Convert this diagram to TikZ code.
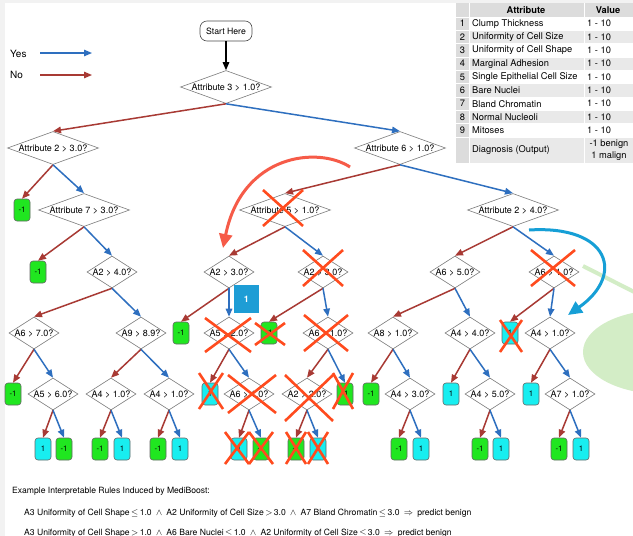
\documentclass[tikz,border=0pt]{standalone}
\usepackage{fontspec}
\setmainfont{TeX Gyre Heros}
\usetikzlibrary{shapes.geometric,arrows.meta}

\definecolor{yescol}{HTML}{2E6FBF}
\definecolor{nocol}{HTML}{A83A34}
\definecolor{xcol}{HTML}{FF4B1E}
\definecolor{swoopred}{HTML}{F65B48}
\definecolor{swoopblue}{HTML}{169FD6}
\definecolor{leafg}{HTML}{20E620}
\definecolor{leafc}{HTML}{18EEF0}
\definecolor{tagblue}{HTML}{1E9DD5}
\definecolor{softgreen}{HTML}{D3EDC6}
\definecolor{tabhead}{HTML}{DCDCDC}
\definecolor{tabrow}{HTML}{E9E9E9}
\definecolor{edgegrey}{HTML}{7A7A7A}
\definecolor{framegrey}{HTML}{F2F2F2}

% diamond label that does not widen its diamond
\newcommand\dlab[1]{\makebox[0pt]{\raisebox{-0.35em}[0pt][0pt]{#1}}}

\begin{document}
\begin{tikzpicture}[x=1pt,y=-1pt,
  dia/.style={diamond, draw=edgegrey, line width=0.6pt, fill=white, inner sep=0pt,
    minimum width=50, minimum height=32, font=\fontsize{9}{10}\selectfont},
  bigdia/.style={dia, minimum width=91, minimum height=33},
  leaf/.style={rectangle, rounded corners=3pt, draw=black!60, line width=0.6pt,
    minimum width=16, minimum height=22, inner sep=0pt, font=\fontsize{7.8}{8}\selectfont},
  benign/.style={leaf, fill=leafg},
  malign/.style={leaf, fill=leafc},
  branch/.style={line width=1.5pt, -{Triangle[length=8pt,width=6.5pt]}},
  yesedge/.style={branch, draw=yescol, fill=yescol},
  noedge/.style={branch, draw=nocol, fill=nocol},
  strike/.style={draw=xcol, line width=2.6pt},
  xout/.pic={\draw[strike] (-1,-1) -- (1,1) (-1,1) -- (1,-1);},
  tabfont/.style={font=\fontsize{9.3}{10.5}\selectfont, inner sep=0pt},
  rulefont/.style={font=\fontsize{8.6}{10}\selectfont, inner sep=0pt},
]
% page frame
\fill[framegrey] (0,0) rectangle (633,536);
\fill[white] (5,3) rectangle (633,536);
\useasboundingbox (0,0) rectangle (633,536);

% soft green shapes at the right edge
\begin{scope}
  \clip (0,0) rectangle (633,536);
  \draw[softgreen, line width=4pt] (583,266) -- (650,300);
  \fill[softgreen] (662,352) ellipse [x radius=79, y radius=42];
\end{scope}

% legend
\node[anchor=west, inner sep=0pt, font=\fontsize{10}{12}\selectfont] (yeslab) at (10,54) {Yes};
\node[anchor=west, inner sep=0pt, font=\fontsize{10}{12}\selectfont] (nolab) at (10,75) {No};
\coordinate (ya) at (40,53); \coordinate (yb) at (92,53);
\coordinate (na) at (40,75); \coordinate (nb) at (92,75);
\draw[yesedge, line width=1.3pt] (ya) -- (yb);
\draw[noedge, line width=1.3pt] (na) -- (nb);

% attribute table
\fill[tabhead] (456,3) rectangle (633,17);
\fill[tabhead] (456,17) rectangle (469,163);
\foreach \i in {2,4,6,8}
  \fill[tabrow] (469,{17+13.33*(\i-1)}) rectangle (633,{17+13.33*\i});
\fill[tabrow] (469,137) rectangle (633,163);
\draw[white, line width=0.8pt] (469,3) -- (469,163) (584,3) -- (584,163);
\foreach \i in {0,...,9}
  \draw[white, line width=0.8pt] (456,{17+13.33*\i}) -- (633,{17+13.33*\i});
\node[tabfont, font=\bfseries\fontsize{9.3}{10.5}\selectfont] (hattr) at (526,10.5) {Attribute};
\node[tabfont, font=\bfseries\fontsize{9.3}{10.5}\selectfont] (hval) at (608,10.5) {Value};
\foreach \i/\name in {1/Clump Thickness, 2/Uniformity of Cell Size, 3/Uniformity of Cell Shape,
    4/Marginal Adhesion, 5/Single Epithelial Cell Size, 6/Bare Nuclei, 7/Bland Chromatin,
    8/Normal Nucleoli, 9/Mitoses}{
  \node[tabfont] (num\i) at (462.5,{17+13.33*(\i-0.5)}) {\i};
  \node[tabfont, anchor=west] (attr\i) at (472,{17+13.33*(\i-0.5)}) {\name};
  \node[tabfont, anchor=west] (val\i) at (587,{17+13.33*(\i-0.5)}) {1 - 10};
}
\node[tabfont, anchor=west] (diag) at (472,150.5) {Diagnosis (Output)};
\node[tabfont, align=center, font=\fontsize{9.3}{12}\selectfont] (diagval) at (609,150.5) {-1 benign\\1 malign};

% tree nodes
\node[draw=black!70, line width=0.6pt, fill=white, rounded corners=7pt, minimum width=52,
  minimum height=20, inner sep=0pt, font=\fontsize{8.7}{9}\selectfont] (start) at (226,31) {Start Here};
\node[bigdia] (a3) at (226,87) {\dlab{Attribute 3 > 1.0?}};
\node[bigdia] (n2) at (53,148) {\dlab{Attribute 2 > 3.0?}};
\node[bigdia] (n6) at (400,148) {\dlab{Attribute 6 > 1.0?}};

\node[benign] (l1) at (22,210) {-1};
\node[bigdia] (n7) at (84,210) {\dlab{Attribute 7 > 3.0?}};
\node[bigdia] (n5) at (285,210) {\dlab{Attribute 5 > 1.0?}};
\node[bigdia] (n24) at (513,210) {\dlab{Attribute 2 > 4.0?}};

\node[benign] (l2) at (38,272) {-1};
\node[dia] (p) at (112,272) {\dlab{A2 > 4.0?}};
\node[dia] (q) at (229,272) {\dlab{A2 > 3.0?}};
\node[dia] (r) at (323,272) {\dlab{A2 > 3.0?}};
\node[dia] (s) at (455,272) {\dlab{A6 > 5.0?}};
\node[dia] (t) at (554,272) {\dlab{A6 > 1.0?}};

\node[dia] (pa) at (34,333) {\dlab{A6 > 7.0?}};
\node[dia] (pb) at (141,333) {\dlab{A9 > 8.9?}};
\node[benign] (qa) at (181,333) {-1};
\node[dia] (qb) at (229,333) {\dlab{A5 > 2.0?}};
\node[benign] (ra) at (269,333) {-1};
\node[dia] (rb) at (328,333) {\dlab{A6 > 1.0?}};
\node[dia] (sa) at (393,333) {\dlab{A8 > 1.0?}};
\node[dia] (sb) at (470,333) {\dlab{A4 > 4.0?}};
\node[malign] (ta) at (510,333) {1};
\node[dia] (tb) at (550,333) {\dlab{A4 > 1.0?}};

\node[benign] (paa) at (13,394) {-1};
\node[dia] (pab) at (53,394) {\dlab{A5 > 6.0?}};
\node[dia] (pba) at (111,394) {\dlab{A4 > 1.0?}};
\node[dia] (pbb) at (169,394) {\dlab{A4 > 1.0?}};
\node[malign] (qba) at (210,394) {1};
\node[dia] (qbb) at (249,394) {\dlab{A6 > 1.0?}};
\node[dia] (rba) at (307,394) {\dlab{A2 > 2.0?}};
\node[benign] (rbb) at (345,394) {-1};
\node[benign] (saa) at (371,394) {-1};
\node[dia] (sab) at (410,394) {\dlab{A4 > 3.0?}};
\node[malign] (sba) at (451,394) {1};
\node[dia] (sbb) at (490,394) {\dlab{A4 > 5.0?}};
\node[malign] (tba) at (531,394) {1};
\node[dia] (tbb) at (570,394) {\dlab{A7 > 1.0?}};

\foreach \nm/\xx/\kind/\txt in {pab1/43/malign/1, pab2/64/benign/-1, pba1/100/benign/-1,
    pba2/122/malign/1, pbb1/158/benign/-1, pbb2/180/malign/1, qbb1/239/malign/1,
    qbb2/261/benign/-1, rba1/296/benign/-1, rba2/318/malign/1, sab1/399/benign/-1,
    sab2/421/malign/1, sbb1/480/benign/-1, sbb2/501/malign/1, tbb1/559/benign/-1,
    tbb2/581/malign/1}
  \node[\kind] (\nm) at (\xx,449) {\txt};

% branches
\draw[line width=1.3pt, -{Triangle[length=8pt,width=6.5pt]}] (start) -- (a3);
\foreach \a/\b in {a3/n2, n2/l1, n6/n5, n7/l2, n5/q, n24/s, p/pa, q/qa, r/ra, s/sa, t/ta,
    pa/paa, pb/pba, qb/qba, rb/rba, sa/saa, sb/sba, tb/tba, pab/pab1, pba/pba1, pbb/pbb1,
    qbb/qbb1, rba/rba1, sab/sab1, sbb/sbb1, tbb/tbb1}
  \draw[noedge] (\a.south) -- (\b.north);
\foreach \a/\b in {a3/n6, n2/n7, n6/n24, n7/p, n5/r, n24/t, p/pb, q/qb, r/rb, s/sb, t/tb,
    pa/pab, pb/pbb, qb/qbb, rb/rbb, sa/sab, sb/sbb, tb/tbb, pab/pab2, pba/pba2, pbb/pbb2,
    qbb/qbb2, rba/rba2, sab/sab2, sbb/sbb2, tbb/tbb2}
  \draw[yesedge] (\a.south) -- (\b.north);

% step tag
\node[fill=tagblue, text=white, minimum width=25, minimum height=28, inner sep=0pt,
  font=\bfseries\fontsize{9}{10}\selectfont] (tag) at (246.5,299) {1};

% pruned parts
\foreach \cx/\cy/\hx/\hy in {283/208/20/18, 323/268/20/18, 228/335/23/17, 270/334/15/11,
    326/333/22/18, 211/391/12/18, 252/394/24/19, 309/398/24/23, 343/391/10/18,
    237/448/12/16, 261/448/12/16, 296/448/10/16, 318/448/10/16, 553/268/22/18, 511/336/11/16}
  \pic[xscale=\hx, yscale=\hy] at (\cx,\cy) {xout};

% swoop arrows
\coordinate (rs) at (350,167); \coordinate (re) at (223,248);
\draw[swoopred, line width=3pt, -{Triangle[length=14pt,width=13pt]}]
  (rs) .. controls (318,146) and (242,154) .. (re);
\coordinate (bs) at (529,230); \coordinate (be) at (568,315);
\draw[swoopblue, line width=3pt, -{Triangle[length=14pt,width=13pt]}]
  (bs) .. controls (610,225) and (625,275) .. (be);

% rules
\node[rulefont, anchor=base west] (rulehead) at (12,493)
  {Example Interpretable Rules Induced by MediBoost:};
\node[rulefont, anchor=base west] (rule1) at (24,515)
  {A3 Uniformity of Cell Shape\,$\leq$\,1.0\enspace$\wedge$\enspace A2 Uniformity of Cell Size\,$>$\,3.0\enspace$\wedge$\enspace A7 Bland Chromatin\,$\leq$\,3.0\enspace$\Rightarrow$\enspace predict benign};
\node[rulefont, anchor=base west] (rule2) at (24,535)
  {A3 Uniformity of Cell Shape\,$>$\,1.0\enspace$\wedge$\enspace A6 Bare Nuclei\,$\leq$\,1.0\enspace$\wedge$\enspace A2 Uniformity of Cell Size\,$\leq$\,3.0\enspace$\Rightarrow$\enspace predict benign};
\end{tikzpicture}
\end{document}
